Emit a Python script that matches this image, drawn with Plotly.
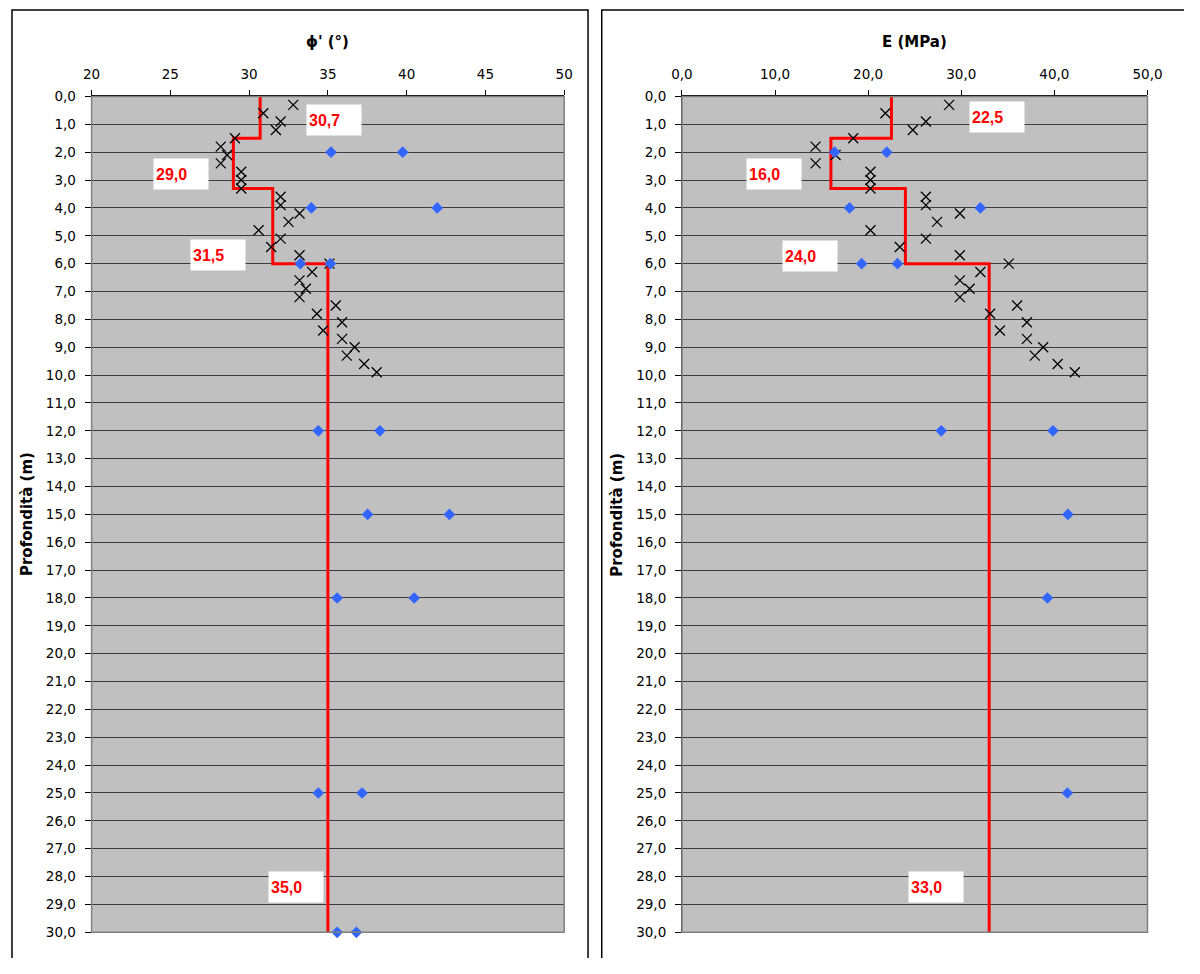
import plotly.graph_objects as go

# ---- data -------------------------------------------------------------
# CPT-derived profiles (one reading every 0.3 m)
depth_cpt = [0.3, 0.6, 0.9, 1.2, 1.5, 1.8, 2.1, 2.4, 2.7, 3.0, 3.3, 3.6, 3.9,
             4.2, 4.5, 4.8, 5.1, 5.4, 5.7, 6.0, 6.3, 6.6, 6.9, 7.2, 7.5, 7.8,
             8.1, 8.4, 8.7, 9.0, 9.3, 9.6, 9.9]
phi_cpt = [32.8, 30.9, 32.0, 31.7, 29.1, 28.2, 28.6, 28.2, 29.5, 29.5, 29.5,
           32.0, 32.0, 33.2, 32.5, 30.6, 32.0, 31.4, 33.2, 35.1, 34.0, 33.2,
           33.6, 33.2, 35.5, 34.3, 35.9, 34.7, 35.9, 36.7, 36.2, 37.3, 38.1]
E_cpt = [28.7, 21.85, 26.2, 24.8, 18.4, 14.35, 16.5, 14.35, 20.25, 20.25, 20.25,
         26.2, 26.2, 29.85, 27.4, 20.25, 26.2, 23.4, 29.85, 35.1, 32.05, 29.85,
         30.9, 29.85, 36.0, 33.1, 37.05, 34.15, 37.05, 38.8, 37.9, 40.35, 42.2]

# SPT-derived values
depth_spt_phi = [2.0, 2.0, 4.0, 4.0, 6.0, 6.0, 12.0, 12.0, 15.0, 15.0,
                 18.0, 18.0, 25.0, 25.0, 30.0, 30.0]
phi_spt = [35.2, 39.75, 33.95, 41.94, 33.25, 35.16, 34.39, 38.30, 37.52, 42.71,
           35.59, 40.48, 34.39, 37.17, 35.59, 36.81]
depth_spt_E = [2.0, 2.0, 4.0, 4.0, 6.0, 6.0, 12.0, 12.0, 15.0, 18.0, 25.0]
E_spt = [16.4, 22.0, 18.0, 32.05, 19.3, 23.15, 27.85, 39.85, 41.45, 39.25, 41.4]

# design layers
layer_top = [0.0, 1.5, 3.3, 6.0]
layer_bottom = [1.5, 3.3, 6.0, 30.0]
phi_design = [30.7, 29.0, 31.5, 35.0]
E_design = [22.5, 16.0, 24.0, 33.0]

# ---- layout helpers ----------------------------------------------------
# figure sized so that, with the page's 8 px body margin, it fills 1200x974
PAGE_MARGIN = 8
W, H = 1200 - 2 * PAGE_MARGIN, 974 - 2 * PAGE_MARGIN


def px(x):
    return (x - PAGE_MARGIN) / W


def py(y):
    return 1 - (y - PAGE_MARGIN) / H


def step(values):
    xs, ys = [], []
    for v, t, b in zip(values, layer_top, layer_bottom):
        xs += [v, v]
        ys += [t, b]
    return xs, ys


def fmt(v):
    return f"{v:.1f}".replace(".", ",")


AXIS_FONT = "DejaVu Sans, Verdana, sans-serif"
LABEL_FONT = "Liberation Sans, Arial, sans-serif"
RED = "#FF0000"
BLUE = "#3366FF"

fig = go.Figure()

panels = [
    ("x", "y", phi_design, depth_cpt, phi_cpt, depth_spt_phi, phi_spt),
    ("x2", "y2", E_design, depth_cpt, E_cpt, depth_spt_E, E_spt),
]
for xa, ya, design, dc, vc, ds, vs in panels:
    sx, sy = step(design)
    fig.add_trace(go.Scatter(x=sx, y=sy, xaxis=xa, yaxis=ya, mode="lines",
                             line=dict(color=RED, width=3), cliponaxis=False,
                             showlegend=False, hoverinfo="skip"))
    fig.add_trace(go.Scatter(x=vc, y=dc, xaxis=xa, yaxis=ya, mode="markers",
                             marker=dict(symbol="x-thin-open", size=10,
                                         color="black",
                                         line=dict(color="black", width=1.3)),
                             cliponaxis=False, showlegend=False))
    fig.add_trace(go.Scatter(x=vs, y=ds, xaxis=xa, yaxis=ya, mode="markers",
                             marker=dict(symbol="diamond", size=9, color=BLUE,
                                         line=dict(width=0)),
                             cliponaxis=False, showlegend=False))

ydom = [py(948), py(98)]
common_y = dict(range=[30, 0], dtick=1, tick0=0, tickformat=".1f",
                showgrid=True, gridcolor="#3c3c3c", gridwidth=1.4,
                ticks="outside", ticklen=6, tickcolor="black", tickwidth=1,
                showline=True, linecolor="black", linewidth=1,
                zeroline=False, domain=ydom,
                tickfont=dict(family=AXIS_FONT, size=13.5, color="black"),
                ticklabelstandoff=6)
common_x = dict(side="top", showgrid=False, zeroline=False,
                ticks="outside", ticklen=5, tickcolor="black", tickwidth=1,
                showline=True, linecolor="black", linewidth=1,
                tickfont=dict(family=AXIS_FONT, size=13.5, color="black"),
                ticklabelstandoff=6)

fig.update_layout(
    width=W, height=H, margin=dict(l=0, r=0, t=0, b=0),
    paper_bgcolor="white", plot_bgcolor="#C0C0C0",
    separators=",.",
    xaxis=dict(common_x, range=[20, 50], dtick=5, tick0=20,
               domain=[px(90.4), px(573.6)], anchor="y"),
    yaxis=dict(common_y, anchor="x"),
    xaxis2=dict(common_x, range=[0, 50], dtick=10, tick0=0, tickformat=".1f",
                domain=[px(694), px(1170)], anchor="y2"),
    yaxis2=dict(common_y, anchor="x2"),
)

shapes = []
# grey outline of each plot area
for xr, yr in (("x domain", "y domain"), ("x2 domain", "y2 domain")):
    shapes.append(dict(type="rect", xref=xr, yref=yr, x0=0, x1=1, y0=0, y1=1,
                       line=dict(color="#808080", width=1.5), layer="above"))
# chart frames
shapes.append(dict(type="rect", xref="paper", yref="paper",
                   x0=px(9), x1=px(598), y0=py(995), y1=py(10),
                   line=dict(color="black", width=1.5)))
shapes.append(dict(type="rect", xref="paper", yref="paper",
                   x0=px(612), x1=px(1220), y0=py(995), y1=py(10),
                   line=dict(color="black", width=1.5)))
fig.update_layout(shapes=shapes)

annotations = []
# axis titles
for xc, txt in ((331.5, "ϕ' (°)"), (932, "E (MPa)")):
    annotations.append(dict(xref="paper", yref="paper", x=px(xc), y=py(43),
                            text=f"<b>{txt}</b>", showarrow=False,
                            font=dict(family=AXIS_FONT, size=15, color="black"),
                            xanchor="center", yanchor="middle"))
for xc in (25, 628):
    annotations.append(dict(xref="paper", yref="paper", x=px(xc), y=py(523),
                            text="<b>Profondità (m)</b>", showarrow=False,
                            textangle=-90,
                            font=dict(family=AXIS_FONT, size=15, color="black"),
                            xanchor="center", yanchor="middle"))

# value boxes next to each design layer
label_pos_phi = [(33.6, 0.85), (23.9, 2.77), (26.27, 5.7), (31.18, 28.38)]
label_pos_E = [(30.78, 0.74), (6.93, 2.79), (10.71, 5.74), (24.26, 28.36)]
for xa, ya, design, pos in (("x", "y", phi_design, label_pos_phi),
                            ("x2", "y2", E_design, label_pos_E)):
    for v, (lx, ly) in zip(design, pos):
        annotations.append(dict(xref=xa, yref=ya, x=lx, y=ly,
                                text=f"<b>{fmt(v)}</b>", showarrow=False,
                                xanchor="left", yanchor="middle",
                                width=50, height=26, align="left",
                                bgcolor="white", borderpad=2,
                                font=dict(family=LABEL_FONT, size=16, color=RED)))
fig.update_layout(annotations=annotations)

fig.write_html("out.html")
